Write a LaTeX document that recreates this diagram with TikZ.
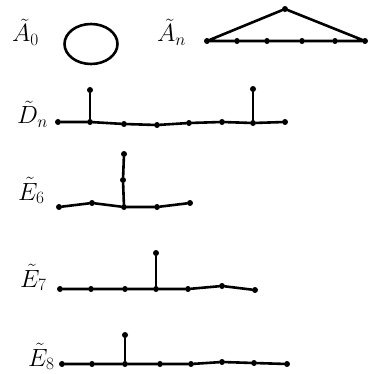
\documentclass[tikz,border=0pt]{standalone}
\usetikzlibrary{shapes.geometric}
\tikzset{
  vertex/.style={circle,fill=black,inner sep=0pt,minimum size=6pt},
  edge/.style={line width=2.6pt,line cap=round,line join=round},
  dynkin/.style={anchor=base west,inner sep=0pt,font=\fontsize{23}{26}\selectfont}
}
\begin{document}
\begin{tikzpicture}[x=1pt,y=-1pt]
    \useasboundingbox (0,0) rectangle (369,374);

    % A_0
    \node[dynkin] (lA0) at (12,42) {\(\tilde{A}_0\)};
    \node[draw,ellipse,line width=2.6pt,minimum width=53pt,minimum height=40pt] (loop) at (91,44) {};

    % A_n
    \node[dynkin] (lAn) at (157,42) {\(\tilde{A}_n\)};
    \node[vertex] (a0) at (285,9) {};
    \foreach \i\x in {1/207,2/237,3/267,4/302,5/335,6/365}{
      \node[vertex] (a\i) at (\x,41) {};
    }
    \draw[edge] (a1) -- (a2) -- (a3) -- (a4) -- (a5) -- (a6) -- (a0) -- (a1);

    % D_n
    \node[dynkin] (lDn) at (17,124) {\(\tilde{D}_n\)};
    \foreach \i\x\y in {1/58/122,2/90/122,3/124/124,4/157/125,5/189/123,6/222/122,7/253/123,8/285/122}{
      \node[vertex] (d\i) at (\x,\y) {};
    }
    \node[vertex] (d9) at (90,90) {};
    \node[vertex] (d10) at (253,89) {};
    \draw[edge] (d1) -- (d2) -- (d3) -- (d4) -- (d5) -- (d6) -- (d7) -- (d8);
    \draw[edge] (d2) -- (d9);
    \draw[edge] (d7) -- (d10);

    % E_6
    \node[dynkin] (lE6) at (18,200) {\(\tilde{E}_6\)};
    \foreach \i\x\y in {1/59/207,2/92/203,3/124/207,4/157/207,5/190/203}{
      \node[vertex] (e\i) at (\x,\y) {};
    }
    \node[vertex] (e6) at (123,180) {};
    \node[vertex] (e7) at (124,154) {};
    \draw[edge] (e1) -- (e2) -- (e3) -- (e4) -- (e5);
    \draw[edge] (e3) -- (e6) -- (e7);

    % E_7
    \node[dynkin] (lE7) at (20,287) {\(\tilde{E}_7\)};
    \foreach \i\x\y in {1/60/289,2/91/289,3/125/289,4/156/289,5/188/289,6/222/286,7/255/290}{
      \node[vertex] (f\i) at (\x,\y) {};
    }
    \node[vertex] (f8) at (156,253) {};
    \draw[edge] (f1) -- (f2) -- (f3) -- (f4) -- (f5) -- (f6) -- (f7);
    \draw[edge] (f4) -- (f8);

    % E_8
    \node[dynkin] (lE8) at (28,366) {\(\tilde{E}_8\)};
    \foreach \i\x\y in {1/62/364,2/92/364,3/125/364,4/160/364,5/191/364,6/222/362,7/254/363,8/287/364}{
      \node[vertex] (g\i) at (\x,\y) {};
    }
    \node[vertex] (g9) at (125,335) {};
    \draw[edge] (g1) -- (g2) -- (g3) -- (g4) -- (g5) -- (g6) -- (g7) -- (g8);
    \draw[edge] (g3) -- (g9);
  \end{tikzpicture}
\end{document}
